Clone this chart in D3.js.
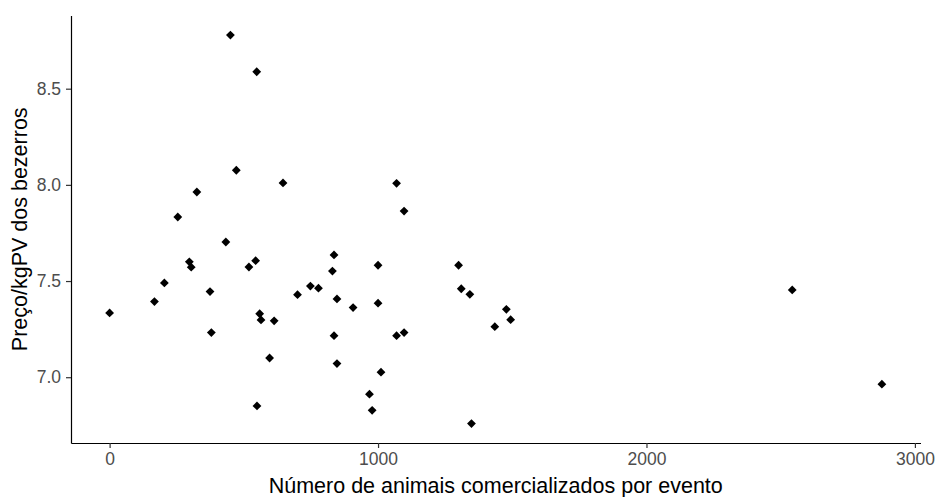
<!DOCTYPE html>
<html>
<head>
<meta charset="utf-8">
<script src="https://cdn.jsdelivr.net/npm/d3@7"></script>
<style>
  html, body { margin: 0; padding: 0; background: #ffffff; }
  svg { display: block; font-family: "Liberation Sans", Arial, sans-serif; }
</style>
</head>
<body>
<svg id="chart" width="936" height="497"></svg>
<script>
// ---- Data ----
const animais = [0, 167, 204, 254, 325, 297, 304, 374, 379, 433, 450, 472, 548, 646, 519, 544,
  559, 564, 613, 596, 549, 700, 748, 778, 836, 830, 847, 907, 836, 847, 1000, 1000,
  1069, 1097, 1069, 1097, 1011, 968, 978, 1300, 1310, 1342, 1478, 1494, 1435, 1348, 2543, 2877];
const precos = [7.334, 7.393, 7.49, 7.833, 7.963, 7.60, 7.572, 7.445, 7.232, 7.703, 8.779, 8.076, 8.588, 8.010, 7.573, 7.606,
  7.33, 7.298, 7.293, 7.100, 6.851, 7.429, 7.474, 7.463, 7.636, 7.552, 7.407, 7.362, 7.216, 7.071, 7.582, 7.385,
  8.008, 7.864, 7.216, 7.232, 7.026, 6.912, 6.828, 7.582, 7.46, 7.431, 7.353, 7.299, 7.263, 6.759, 7.454, 6.964];
const xTicks = [0, 1000, 2000, 3000];
const yTicks = [7.0, 7.5, 8.0, 8.5];
const xTitle = "Número de animais comercializados por evento";
const yTitle = "Preço/kgPV dos bezerros";

const points = animais.map((a, i) => ({ x: a, y: precos[i] }));

// ---- Layout ----
const plot = { left: 71, right: 920.5, top: 15.6, bottom: 443 };

function expanded(values) {
  const [lo, hi] = d3.extent(values);
  const pad = (hi - lo) * 0.05;
  return [lo - pad, hi + pad];
}

const x = d3.scaleLinear().domain(expanded(animais)).range([plot.left, plot.right]);
const y = d3.scaleLinear().domain(expanded(precos)).range([plot.bottom, plot.top]);

const svg = d3.select("#chart");

// Points (filled diamonds)
const r = 4.4;
const diamond = `M0,${-r}L${r},0L0,${r}L${-r},0Z`;
svg.append("g")
  .selectAll("path")
  .data(points)
  .join("path")
  .attr("d", diamond)
  .attr("transform", d => `translate(${x(d.x)},${y(d.y)})`)
  .attr("fill", "#000000");

// X axis
const xAxis = d3.axisBottom(x)
  .tickValues(xTicks)
  .tickFormat(d3.format("d"))
  .tickSize(5)
  .tickPadding(5)
  .tickSizeOuter(0);
const gx = svg.append("g")
  .attr("transform", `translate(0,${plot.bottom})`)
  .call(xAxis);
gx.select(".domain").attr("stroke", "#000").attr("stroke-width", 1.2);
gx.selectAll(".tick line").attr("stroke", "#333333").attr("stroke-width", 1.2);
gx.selectAll(".tick text")
  .attr("fill", "#4D4D4D")
  .attr("font-size", "17.5px")
  .attr("font-family", "'Liberation Sans', Arial, sans-serif");

// Y axis
const yAxis = d3.axisLeft(y)
  .tickValues(yTicks)
  .tickFormat(d3.format(".1f"))
  .tickSize(5)
  .tickPadding(5)
  .tickSizeOuter(0);
const gy = svg.append("g")
  .attr("transform", `translate(${plot.left},0)`)
  .call(yAxis);
gy.select(".domain").attr("stroke", "#000").attr("stroke-width", 1.2);
gy.selectAll(".tick line").attr("stroke", "#333333").attr("stroke-width", 1.2);
gy.selectAll(".tick text")
  .attr("fill", "#4D4D4D")
  .attr("font-size", "17.5px")
  .attr("font-family", "'Liberation Sans', Arial, sans-serif");

// Axis titles
svg.append("text")
  .attr("x", (plot.left + plot.right) / 2)
  .attr("y", 493)
  .attr("text-anchor", "middle")
  .attr("font-size", "21.5px")
  .attr("fill", "#000")
  .text(xTitle);

svg.append("text")
  .attr("transform", `translate(26.5,${(plot.top + plot.bottom) / 2}) rotate(-90)`)
  .attr("text-anchor", "middle")
  .attr("font-size", "21.5px")
  .attr("fill", "#000")
  .text(yTitle);
</script>
</body>
</html>
